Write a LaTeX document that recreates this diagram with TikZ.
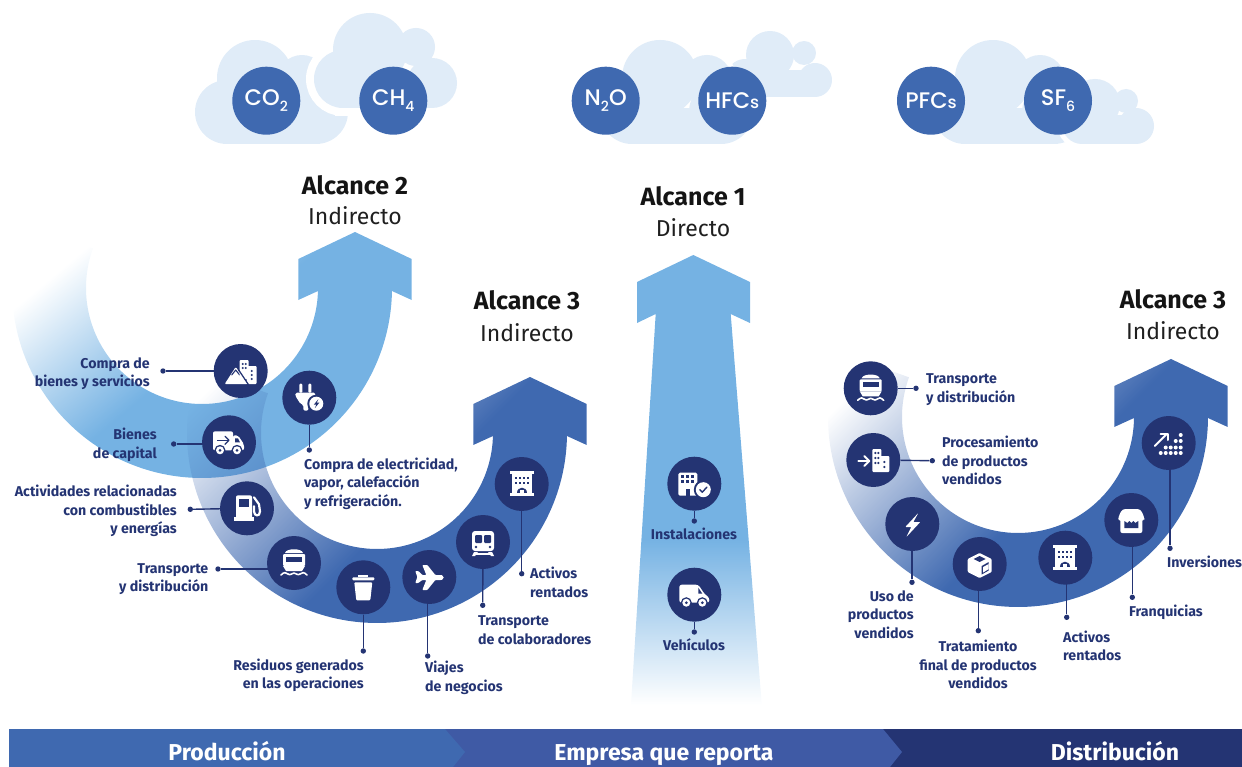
\documentclass[tikz,border=0pt]{standalone}
\usepackage{fontspec}
\setmainfont{Fira Sans}
\newfontfamily\gasfont{Poppins Medium}
\usetikzlibrary{fadings}
\definecolor{lblue}{HTML}{75B2E3}
\definecolor{mblue}{HTML}{3F69B0}
\definecolor{dblue}{HTML}{243473}
\definecolor{bar2}{HTML}{3F5AA5}
\definecolor{cloudc}{HTML}{E0ECF8}
\pgfdeclarehorizontalshading{bandAsh}{1000bp}{color(0bp)=(black); color(425bp)=(black); color(575bp)=(white); color(1000bp)=(white)}
\pgfdeclarefading{bandA}{\pgfuseshading{bandAsh}}
\pgfdeclarehorizontalshading{bandBsh}{1000bp}{color(0bp)=(black); color(417.5bp)=(black); color(582.5bp)=(white); color(1000bp)=(white)}
\pgfdeclarefading{bandB}{\pgfuseshading{bandBsh}}
\pgfdeclarehorizontalshading{bandCsh}{1000bp}{color(0bp)=(black); color(390bp)=(black); color(610bp)=(white); color(1000bp)=(white)}
\pgfdeclarefading{bandC}{\pgfuseshading{bandCsh}}
\pgfdeclarehorizontalshading{bandDsh}{1000bp}{color(0bp)=(black); color(397.5bp)=(black); color(602.5bp)=(white); color(1000bp)=(white)}
\pgfdeclarefading{bandD}{\pgfuseshading{bandDsh}}
\tikzset{
  bandfill/.style n args={3}{path fading=#1, fit fading=false, fading transform={shift={#2},rotate=#3}},
  gas/.style={circle,fill=mblue,minimum size=68pt,inner sep=0pt,text=white,font=\gasfont\fontsize{22.5}{24}\selectfont},
  ic/.style={circle,fill=dblue,minimum size=54pt,inner sep=0pt},
  dotn/.style={circle,fill=dblue,minimum size=5.4pt,inner sep=0pt},
  lnk/.style={draw=dblue,line width=1.4pt},
  lab/.style={text=dblue,inner sep=0pt,font=\fontsize{14.2}{18.5}\selectfont\bfseries},
  labr/.style={lab,align=right,anchor=east},
  labl/.style={lab,align=left,anchor=west},
  labc/.style={lab,align=center},
  ttl/.style={inner sep=0pt,text=black!92,font=\fontsize{25}{27}\selectfont\bfseries},
  sub/.style={inner sep=0pt,text=black!88,font=\fontsize{23}{26}\selectfont},
  barl/.style={inner sep=0pt,anchor=base,text=white,font=\fontsize{23}{25}\selectfont\bfseries},
  cl/.style={fill=cloudc},
  w/.style={fill=white},
  k/.style={fill=dblue},
  wl/.style={draw=white,line width=1.8pt,line cap=round,line join=round},
  kl/.style={draw=dblue,line width=1.1pt,line cap=round,line join=round},
  pics/imount/.style={code={
    \fill[w,rounded corners=1pt] (-16,13)--(-5,-4)--(7,13)--cycle;
    \draw[kl] (-9,4)--(-5,-1)--(-1,4);
    \fill[w,rounded corners=1pt] (-1,-11) rectangle (8,8);
    \fill[w,rounded corners=1pt] (6,-5) rectangle (16,13);
    \draw[kl,line width=1.2pt] (-2,-1)--(8,14);
    \foreach \p in {(2,-7),(5,-7),(2,-3),(5,-3),(11,0),(11,4),(11,8)} \fill[k] \p circle[radius=1.1];
  }},
  pics/iplug/.style={code={
    \fill[w,rounded corners=1pt] (-10,-14) rectangle (-7,-5);
    \fill[w,rounded corners=1pt] (-1,-14) rectangle (2,-5);
    \fill[w,rounded corners=1.5pt] (-14,-5)--(6,-5)--(6,-2)--(1,6)--(-1,7)--(-1,13)--(-6,13)--(-6,7)--(-9,6)--(-14,-2)--cycle;
    \fill[k] (7,6) circle[radius=9];
    \fill[w] (7,6) circle[radius=7];
    \fill[k] (9,1.5)--(4.5,7)--(7,7)--(5.5,10.5)--(10,5)--(7.5,5)--cycle;
  }},
  pics/itruck/.style={code={
    \fill[w,rounded corners=2pt] (-16,-11) rectangle (4,8);
    \fill[w,rounded corners=2pt] (4,-7)--(9,-7)--(15,2)--(15,8)--(4,8)--cycle;
    \fill[k] (6,-4)--(9,-4)--(11,0)--(6,0)--cycle;
    \draw[kl,line width=1.3pt,line cap=butt] (-12,-2)--(-1,-2);
    \draw[kl,line width=1.3pt] (-4,-6)--(0,-2)--(-4,2);
    \foreach \a in {-9,8} {\fill[k] (\a,8) circle[radius=5.5]; \fill[w] (\a,8) circle[radius=4]; \fill[k] (\a,8) circle[radius=1.5];}
  }},
  pics/ifuel/.style={code={
    \fill[w,rounded corners=2pt] (-11,-13) rectangle (5,11);
    \fill[w] (-13,9) rectangle (7,13);
    \fill[k] (-8,-9) rectangle (2,-1);
    \draw[wl,line width=2.2pt] (7,-11)--(12,-4)--(13,3) .. controls (13,9) and (7,8) .. (7,3)--(7,-2);
  }},
  pics/iboat/.style={code={
    \fill[w] (-9,-10) .. controls (-8,-15) and (8,-15) .. (9,-10) --cycle;
    \fill[w,rounded corners=1pt] (-11,-9) rectangle (11,3);
    \fill[k] (-8,-6) rectangle (8,-1);
    \fill[w] (-11,3)--(11,3)--(8,8)--(-8,8)--cycle;
    \draw[wl,line width=1.6pt] (-13,12) .. controls (-10,9) and (-8,9) .. (-6,11) .. controls (-4,13) and (-2,10) .. (0,10) .. controls (2,10) and (4,13) .. (6,11) .. controls (8,9) and (10,9) .. (13,12);
  }},
  pics/itrash/.style={code={
    \fill[w,rounded corners=1pt] (-11,-10) rectangle (11,-7);
    \fill[w] (-5,-12) rectangle (5,-10);
    \fill[w,rounded corners=1pt] (-9,-5)--(9,-5)--(7,13)--(-7,13)--cycle;
  }},
  pics/iplane/.style={code={
    \fill[w,rounded corners=0.8pt] (-14,-6)--(-11,-6)--(-7,-2)--(-3,-2)--(-7,-12)--(-2,-12)--(6,-2)--(12,-2) .. controls (15,-1) and (15,2) .. (12,3)--(6,3)--(-2,13)--(-7,13)--(-3,3)--(-7,3)--(-11,6)--(-14,6)--(-12,0)--cycle;
  }},
  pics/itrain/.style={code={
    \fill[w,rounded corners=3pt] (-11,-11) rectangle (11,9);
    \fill[k,rounded corners=1pt] (-8,-7) rectangle (-1,1);
    \fill[k,rounded corners=1pt] (1,-7) rectangle (8,1);
    \fill[k] (-7,5) circle[radius=1.4]; \fill[k] (7,5) circle[radius=1.4];
    \fill[w] (-9,10)--(-5,10)--(-8,14)--(-11,14)--cycle;
    \fill[w] (9,10)--(5,10)--(8,14)--(11,14)--cycle;
    \fill[w] (-7,11) rectangle (7,12.5);
  }},
  pics/ioffice/.style={code={
    \fill[w] (-12,-13) rectangle (12,-10);
    \fill[w] (-10,-10) rectangle (10,9);
    \fill[w] (-12,9) rectangle (12,12);
    \foreach \x in {-6,-2,2,6} \fill[k] (\x-1,-7) rectangle (\x+1,-5);
    \foreach \x in {-6,-2,2,6} \fill[k] (\x-1,-2) rectangle (\x+1,0);
    \fill[k] (-5,9) .. controls (-5,2) and (5,2) .. (5,9) -- cycle;
    \fill[w] (-2,6) rectangle (2,12);
  }},
  pics/iinst/.style={code={
    \fill[w,rounded corners=1.5pt] (-16,-11) rectangle (3,12);
    \foreach \x in {-12,-7,-2} \foreach \y in {-7,-2} \fill[k] (\x-1.3,\y-1.3) rectangle (\x+1.3,\y+1.3);
    \fill[k] (-8.5,5) rectangle (-4.5,12);
    \fill[k] (9,6) circle[radius=9.5];
    \fill[w] (9,6) circle[radius=7.5];
    \draw[kl,line width=1.4pt] (5.5,6)--(8,8.5)--(12.5,3.5);
  }},
  pics/ivan/.style={code={
    \fill[w,rounded corners=2.5pt] (-15,-10)--(4,-10)--(10,-1)--(15,3)--(15,8)--(-15,8)--cycle;
    \fill[k] (4,-7)--(8,-1)--(4,-1)--cycle;
    \foreach \a in {-8,8} {\fill[k] (\a,8) circle[radius=5.5]; \fill[w] (\a,8) circle[radius=4]; \fill[k] (\a,8) circle[radius=1.5];}
  }},
  pics/ifact/.style={code={
    \fill[w,rounded corners=1pt] (-1,-11) rectangle (8,12);
    \fill[w,rounded corners=1pt] (6,-4) rectangle (16,12);
    \draw[wl,line width=2pt] (-15,1)--(-5,1);
    \draw[wl,line width=2pt] (-9,-4)--(-4,1)--(-9,6);
    \foreach \p in {(2,-7),(5,-7),(2,-2),(5,-2),(2,3),(5,3),(11,2),(11,7)} \fill[k] \p circle[radius=1.2];
  }},
  pics/ibolt/.style={code={
    \fill[w,rounded corners=0.7pt] (6,-11)--(-7,3)--(-1,3)--(-6,13)--(8,-2)--(1,-2)--cycle;
  }},
  pics/ibox/.style={code={
    \fill[w,rounded corners=1pt] (0,-11)--(12,-5)--(12,8)--(0,14)--(-12,8)--(-12,-5)--cycle;
    \fill[k] (0,-8)--(6,-5)--(0,-2)--(-6,-5)--cycle;
    \fill[k] (2,2)--(9,-2)--(9,6.5)--(2,10.5)--cycle;
    \fill[w] (3.5,3)--(9,0)--(9,5)--(3.5,8.5)--cycle;
  }},
  pics/istore/.style={code={
    \fill[w,rounded corners=3pt] (-13,1) -- (-13,-3) -- (-9,-11) -- (9,-11) -- (13,-3) -- (13,1) -- cycle;
    \fill[w,rounded corners=2pt] (-11,-2) rectangle (11,13);
    \fill[k] (-7,1) -- (-7,8) -- (7,8) -- (7,1) -- (4,3) -- (2,1) -- (0,3) -- (-2,1) -- (-4,3) -- cycle;
  }},
  pics/iinv/.style={code={
    \draw[wl,line width=2pt] (-14,3)--(-2,-9);
    \draw[wl,line width=2pt] (-8,-9.5)--(-1,-9.5)--(-1,-3);
    \foreach \x in {-8,-3,2,7,12} \fill[w] (\x,10) circle[radius=2];
    \foreach \x in {-3,2,7,12} \fill[w] (\x,4.5) circle[radius=2];
    \foreach \x in {7,12} \fill[w] (\x,-2) circle[radius=2];
    \fill[w] (12,-8) circle[radius=2];
  }},
}
\newcommand\ringpath[3]{ plot[domain=200:1,samples=100,variable=\t,smooth]({#1+190*cos(\t)},{#2+190*sin(\t)})
  -- ({#1+190},{#3+59}) -- ({#1+209.7},{#3+68}) -- ({#1+209.7},{#3+27}) -- ({#1+153},{#3}) -- ({#1+96.3},{#3+27}) -- ({#1+96.3},{#3+68}) -- ({#1+116},{#3+59})
  -- plot[domain=1:200,samples=100,variable=\t,smooth]({#1+116*cos(\t)},{#2+116*sin(\t)}) -- cycle}
\newcommand\lowsub[1]{\raisebox{-6pt}{\fontsize{14}{14}\selectfont #1}}
% one cloud: four lobes and a floor, each painted on its own
\newcommand\cloudA[2]{% x offset, style
  \fill[#2] ({#1+227},112) circle[radius=32];
  \fill[#2] ({#1+255},78) circle[radius=38];
  \fill[#2] ({#1+302},80) circle[radius=25];
  \fill[#2] ({#1+316},112) circle[radius=32];
  \fill[#2] ({#1+227},108) rectangle ({#1+316},144);}
\begin{document}
\begin{tikzpicture}[x=1pt,y=-1pt]
\useasboundingbox (0,0) rectangle (1242,767);
% clouds
\cloudA{0}{cl}
\foreach \px/\py/\pr in {343/79/29,370/50/37,416/47/19,432/83/25} \draw[white,line width=16pt] (\px,\py) circle[radius=\pr];
\draw[white,line width=16pt] (343,90) rectangle (432,108);
\foreach \px/\py/\pr in {343/79/29,370/50/37,416/47/19,432/83/25} \fill[cl] (\px,\py) circle[radius=\pr];
\fill[cl] (343,90) rectangle (432,108);
\foreach \px/\py/\pr in {745/78/19,770/55/24,804/53/12,815/80/17} \fill[cl] (\px,\py) circle[radius=\pr];
\fill[cl] (745,70) rectangle (815,97);
\foreach \px/\py/\pr in {632/112/32,660/78/38,707/80/25,721/112/32} \draw[white,line width=10pt] (\px,\py) circle[radius=\pr];
\cloudA{405}{cl}
\cloudA{738}{cl}
\foreach \px/\py/\pr in {1082/124/20,1095/104/25,1126/101/12,1136/126/18} \draw[white,line width=10pt] (\px,\py) circle[radius=\pr];
\foreach \px/\py/\pr in {1082/124/20,1095/104/25,1126/101/12,1136/126/18} \fill[cl] (\px,\py) circle[radius=\pr];
\fill[cl] (1082,115) rectangle (1136,144);
% gases
\node[gas] (co2) at (266.3,100.7) {CO\lowsub{2}};
\node[gas] (ch4) at (393.3,100.7) {CH\lowsub{4}};
\node[gas] (n2o) at (605.7,100.7) {N\lowsub{2}O};
\node[gas] (hfc) at (732.3,100.7) {HFC{\fontsize{17}{17}\selectfont s}};
\node[gas] (pfc) at (931,100.7) {PFC{\fontsize{17}{17}\selectfont s}};
\node[gas] (sf6) at (1058,100.7) {SF\lowsub{6}};
% arrows
\fill[lblue,bandfill={bandA}{(182.7,265)}{-50}] \ringpath{202}{288}{232};
\fill[lblue,bandfill={bandB}{(693,622)}{90}] (693.3,255) -- (750,282) -- (750,323) -- (730.7,314) -- (763,720) -- (630,720) -- (655.7,314) -- (637,323) -- (637,282) -- cycle;
\fill[mblue,bandfill={bandC}{(349,405)}{-45}] \ringpath{377}{433}{377};
\fill[mblue,bandfill={bandD}{(995,394)}{-45}] \ringpath{1018}{417}{359};
% titles
\node[ttl] (t2) at (355,185.5) {Alcance 2};
\node[sub] (s2) at (355,216) {Indirecto};
\node[ttl] (t1) at (693,196.5) {Alcance 1};
\node[sub] (s1) at (693,227.5) {Directo};
\node[ttl] (t3) at (527,300.5) {Alcance 3};
\node[sub] (s3) at (527,333) {Indirecto};
\node[ttl] (t4) at (1173,299.5) {Alcance 3};
\node[sub] (s4) at (1173,331) {Indirecto};
% icon discs
\node[ic] (a) at (240.7,371) {};
\node[ic] (b) at (309.3,397.7) {};
\node[ic] (c) at (229,442.3) {};
\node[ic] (d) at (247,508.3) {};
\node[ic] (e) at (294,563) {};
\node[ic] (f) at (363.3,587.3) {};
\node[ic] (g) at (429.3,577) {};
\node[ic] (h) at (483,542) {};
\node[ic] (i) at (521.7,484) {};
\node[ic] (j) at (694.3,483.7) {};
\node[ic] (k) at (694.3,594.7) {};
\node[ic] (l) at (870.7,388.3) {};
\node[ic] (m) at (873.3,460) {};
\node[ic] (n) at (912.3,524) {};
\node[ic] (o) at (979.7,564) {};
\node[ic] (p) at (1065.3,557.7) {};
\node[ic] (q) at (1131.3,520) {};
\node[ic] (r) at (1168.7,443) {};
% dots
\node[dotn] (da) at (163,371) {};
\node[dotn] (db) at (309.3,450) {};
\node[dotn] (dc) at (173.7,444) {};
\node[dotn] (dd) at (190.3,509.3) {};
\node[dotn] (de) at (218,569) {};
\node[dotn] (df) at (363.3,651) {};
\node[dotn] (dg) at (427.7,656) {};
\node[dotn] (dh) at (482.7,605.3) {};
\node[dotn] (di) at (521.7,573.7) {};
\node[dotn] (dj) at (694.3,521) {};
\node[dotn] (dk) at (694.3,632) {};
\node[dotn] (dl) at (916,388.3) {};
\node[dotn] (dm) at (932.3,460.7) {};
\node[dotn] (dn) at (912,582.3) {};
\node[dotn] (do) at (978.3,630.7) {};
\node[dotn] (dp) at (1066.7,617.3) {};
\node[dotn] (dq) at (1132.3,597.3) {};
\node[dotn] (dr) at (1170,548.3) {};
% connectors
\draw[lnk] (a) -- (da);
\draw[lnk] (b) -- (db);
\draw[lnk] (c.center |- dc) -- (dc);
\draw[lnk] (d) -- (dd);
\draw[lnk] (e.center |- de) -- (de);
\draw[lnk] (f) -- (df);
\draw[lnk] (dg |- g.center) -- (dg);
\draw[lnk] (h) -- (dh);
\draw[lnk] (i) -- (di);
\draw[lnk] (j) -- (dj);
\draw[lnk] (k) -- (dk);
\draw[lnk] (l) -- (dl);
\draw[lnk] (m) -- (dm);
\draw[lnk] (dn |- n.center) -- (dn);
\draw[lnk] (do |- o.center) -- (do);
\draw[lnk] (dp |- p.center) -- (dp);
\draw[lnk] (dq |- q.center) -- (dq);
\draw[lnk] (dr |- r.center) -- (dr);
% icons
\pic at (a) {imount}; \pic at (b) {iplug}; \pic at (c) {itruck}; \pic at (d) {ifuel};
\pic at (e) {iboat}; \pic at (f) {itrash}; \pic at (g) {iplane}; \pic at (h) {itrain};
\pic at (i) {ioffice}; \pic at (j) {iinst}; \pic at (k) {ivan}; \pic at (l) {iboat};
\pic at (m) {ifact}; \pic at (n) {ibolt}; \pic at (o) {ibox}; \pic at (p) {ioffice};
\pic at (q) {istore}; \pic at (r) {iinv};
% labels
\node[labr] (la) at (150,373.5) {Compra de\\bienes y servicios};
\node[labr] (lc) at (157,445) {Bienes\\de capital};
\node[labr] (ld) at (177,511) {Actividades relacionadas\\con combustibles\\y energías};
\node[labr] (le) at (208.5,579) {Transporte\\y distribución};
\node[labl] (lb) at (304,483.5) {Compra de electricidad,\\vapor, calefacción\\y refrigeración.};
\node[labr] (lf) at (364,675.5) {Residuos generados\\en las operaciones};
\node[labl] (lg) at (425,678) {Viajes\\de negocios};
\node[labl] (lh) at (478,630) {Transporte\\de colaboradores};
\node[labl] (li) at (530,582.5) {Activos\\rentados};
\node[labc] (lj) at (694,534) {Instalaciones};
\node[labc] (lk) at (694,645) {Vehículos};
\node[labl] (ll) at (926,389.5) {Transporte\\y distribución};
\node[labl] (lm) at (942,460.5) {Procesamiento\\de productos\\vendidos};
\node[labr] (ln) at (914,614.5) {Uso de\\productos\\vendidos};
\node[labc] (lo) at (978,664.5) {Tratamiento\\final de productos\\vendidos};
\node[labl] (lp) at (1063,646) {Activos\\rentados};
\node[labl] (lq) at (1129,612.5) {Franquicias};
\node[labl] (lr) at (1167,562) {Inversiones};
% bottom band
\fill[dblue] (883,729) -- (1242,729) -- (1242,767) -- (890,767) -- cycle;
\fill[bar2] (445,729) -- (883,729) -- (902,752) -- (890,767) -- (453,767) -- cycle;
\fill[mblue] (9,729) -- (445,729) -- (465,752) -- (453,767) -- (9,767) -- cycle;
\node[barl] (bp) at (227,760) {Producción};
\node[barl] (be) at (664,760) {Empresa que reporta};
\node[barl] (bd) at (1115,760) {Distribución};
\end{tikzpicture}
\end{document}
